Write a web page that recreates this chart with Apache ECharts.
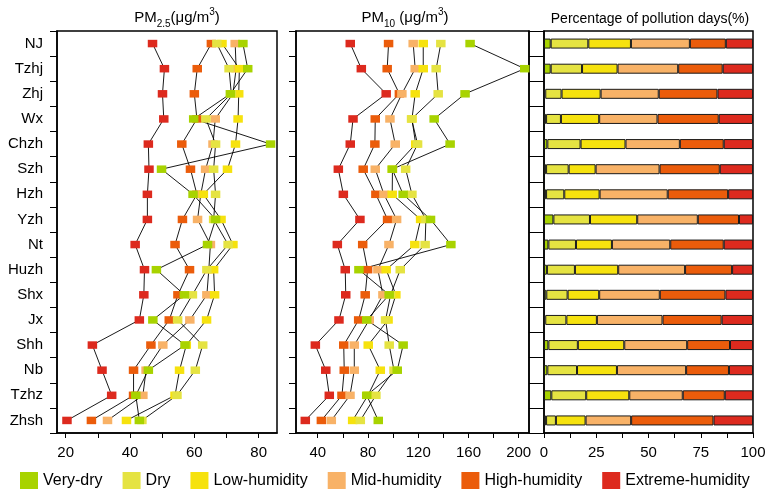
<!DOCTYPE html>
<html><head><meta charset="utf-8">
<script src="https://cdn.jsdelivr.net/npm/echarts@6/dist/echarts.min.js"></script>
<style>html,body{margin:0;padding:0;background:#fff}#c{width:770px;height:490px}</style>
</head><body><div id="c"></div>
<script>
const cities = ['NJ','Tzhj','Zhj','Wx','Chzh','Szh','Hzh','Yzh','Nt','Huzh','Shx','Jx','Shh','Nb','Tzhz','Zhsh'];
const categories = ['Very-dry','Dry','Low-humidity','Mid-humidity','High-humidity','Extreme-humidity'];
const colors = ['#a8d300','#e5e342','#f6e20e','#f8b267','#eb5c0b','#dd2a1e'];

// PM2.5 (µg/m3) by humidity class, per city
const pm25VeryDry = [75.1,76.6,71.2,59.8,83.7,49.8,59.6,66.6,64.1,48.2,56.9,47.1,57.1,45.7,41.8,42.9];
const pm25Dry     = [67.0,70.8,71.5,63.6,66.6,66.0,66.6,66.0,70.5,63.9,59.4,54.8,62.6,60.3,54.6,43.7];
const pm25Low     = [68.6,74.0,73.8,73.6,72.8,70.3,62.8,68.3,72.0,66.0,66.3,63.8,57.5,55.4,54.0,38.9];
const pm25Mid     = [72.7,73.0,72.0,66.5,65.8,63.5,62.0,61.0,65.0,64.5,63.9,58.6,50.2,45.0,44.0,33.0];
const pm25High    = [65.3,60.9,60.0,60.8,56.1,58.8,60.8,56.3,54.0,58.5,54.9,52.2,46.5,41.1,41.1,28.0];
const pm25Extreme = [47.0,50.7,50.1,50.5,45.7,45.9,45.4,45.4,41.6,44.5,44.3,42.9,28.3,31.3,34.3,20.4];

// PM10 (µg/m3) by humidity class, per city
const pm10VeryDry = [161.3,204.8,157.3,132.7,145.4,99.3,108.0,129.8,146.0,72.8,96.9,79.0,108.0,103.3,79.0,88.2];
const pm10Dry     = [138.0,134.3,135.9,114.7,119.5,110.0,115.0,126.1,125.5,105.7,98.0,94.0,96.9,100.7,86.3,73.9];
const pm10Low     = [124.0,124.0,117.6,115.0,118.0,99.5,99.3,121.9,117.3,94.5,102.2,96.0,80.2,89.8,80.0,67.8];
const pm10Mid     = [116.0,117.6,107.0,97.5,101.7,85.8,92.7,102.8,96.7,87.9,91.9,81.0,69.1,69.1,65.7,50.8];
const pm10High    = [96.4,95.3,105.0,85.8,85.5,76.2,86.3,95.6,75.8,79.7,77.8,72.6,60.7,61.1,59.3,42.9];
const pm10Extreme = [65.9,74.7,94.5,68.1,65.9,56.4,60.4,73.6,55.6,61.9,62.3,56.9,38.1,46.4,49.2,30.1];

// Percentage of pollution days (%)
const pctVeryDry = [3.2,3.2,0.6,1.0,1.6,1.0,1.0,4.5,2.1,1.4,1.1,0.6,2.1,1.6,3.5,1.0];
const pctDry     = [18.0,15.0,7.8,7.1,15.9,10.8,8.7,17.5,13.2,13.4,10.2,10.1,14.1,14.2,16.7,4.7];
const pctLow     = [20.4,17.0,18.7,18.3,21.5,12.9,16.9,22.6,17.2,20.7,15.1,14.6,22.2,19.1,20.6,14.2];
const pctMid     = [28.2,29.0,27.8,27.9,26.0,30.6,32.6,29.0,27.9,32.0,29.0,31.4,30.1,33.1,25.6,21.8];
const pctHigh    = [17.2,21.3,28.1,29.3,21.0,28.8,28.9,19.7,25.6,22.5,31.4,28.3,20.5,20.5,20.1,39.4];
const pctExtreme = [13.0,14.5,17.0,16.4,14.0,15.9,11.9,6.7,14.0,10.0,13.2,15.0,11.0,11.5,13.5,18.9];

// tick labels
const pm25Labels = [20,40,60,80];
const pm25Ticks  = [20,30,40,50,60,70,80];
const pm10Labels = [40,80,120,160,200];
const pm10Ticks  = [40,60,80,100,120,140,160,180,200];
const pctLabels  = [0,25,50,75,100];
const pctTicks   = [0,12.5,25,37.5,50,62.5,75,87.5,100];

const pm25 = [pm25VeryDry,pm25Dry,pm25Low,pm25Mid,pm25High,pm25Extreme];
const pm10 = [pm10VeryDry,pm10Dry,pm10Low,pm10Mid,pm10High,pm10Extreme];
const pct  = [pctVeryDry,pctDry,pctLow,pctMid,pctHigh,pctExtreme];

const FONT = "'Liberation Sans', Arial, sans-serif";
const chart = echarts.init(document.getElementById('c'), null, {renderer:'canvas'});

function xAxisDef(gi, min, max, labels, ticks){
  return {
    type:'value', gridIndex:gi, min:min, max:max, splitLine:{show:false},
    axisLine:{show:true, onZero:false, lineStyle:{color:'#000', width:1.5}},
    axisTick:{show:true, customValues:ticks, length:5, lineStyle:{color:'#000', width:1}},
    axisLabel:{show:true, customValues:labels, fontSize:15, color:'#000', fontFamily:FONT, margin:12},
    minorTick:{show:false}
  };
}
function yAxisDef(gi, showLabels, position, tickLen){
  return {
    type:'category', gridIndex:gi, data:cities, inverse:true, position:position||'left',
    axisLine:{show:true, lineStyle:{color:'#000', width:1.5}},
    axisTick:{show:true, length:tickLen||7, lineStyle:{color:'#000', width:1}},
    axisLabel:{show:showLabels, fontSize:15, color:'#000', fontFamily:FONT, margin:14},
    splitLine:{show:false}
  };
}

const series = [];
// connecting lines (under squares)
[[pm25,0],[pm10,1]].forEach(([arr,ax])=>{
  arr.forEach((vals,k)=>{
    series.push({
      type:'line', name:'line'+ax+'_'+k, xAxisIndex:ax, yAxisIndex:ax,
      data: vals.map((v,i)=>[v,cities[i]]), symbol:'none', silent:true,
      lineStyle:{color:'#000', width:0.9}, z:1, animation:false
    });
  });
});
// squares, drawn extreme first so very-dry ends on top
[[pm25,0],[pm10,1]].forEach(([arr,ax])=>{
  for(let k=5;k>=0;k--){
    series.push({
      type:'scatter', name:categories[k], xAxisIndex:ax, yAxisIndex:ax,
      data: arr[k].map((v,i)=>[v,cities[i]]), symbol:'rect', symbolSize:[9.5,7.5],
      itemStyle:{color:colors[k], opacity:1}, z:3, animation:false
    });
  }
});
// stacked bars
for(let k=0;k<6;k++){
  series.push({
    type:'bar', name:categories[k], xAxisIndex:2, yAxisIndex:2, stack:'p',
    data: pct[k], barWidth:10,
    itemStyle:{color:colors[k], borderColor:'#1a1a1a', borderWidth:1},
    animation:false
  });
}

const richT = {
  a:{fontSize:15,color:'#000',fontFamily:FONT,fontWeight:'normal',lineHeight:22,verticalAlign:'middle'},
  s:{fontSize:10,color:'#000',fontFamily:FONT,fontWeight:'normal',lineHeight:22,verticalAlign:'bottom'},
  p:{fontSize:10,color:'#000',fontFamily:FONT,fontWeight:'normal',lineHeight:22,verticalAlign:'top'}
};

chart.setOption({
  backgroundColor:'#fff',
  animation:false,
  textStyle:{fontFamily:FONT},
  title:[
    {text:'{a|PM}{s|2.5}{a|(μg/m}{p|3}{a|)}', left:172, top:2, textAlign:'center',
     textStyle:{fontWeight:'normal', rich:richT}},
    {text:'{a|PM}{s|10}{a| (μg/m}{p|3}{a|)}', left:400, top:2, textAlign:'center',
     textStyle:{fontWeight:'normal', rich:richT}},
    {text:'Percentage of pollution days(%)', left:645, top:7, textAlign:'center',
     textStyle:{fontSize:14, fontWeight:'normal', color:'#000', fontFamily:FONT}}
  ],
  legend:{
    data:categories.map((c,i)=>({name:c, itemStyle:{color:colors[i]}})),
    left:15, top:467, icon:'rect', itemWidth:18, itemHeight:17, itemGap:20,
    textStyle:{fontSize:16, color:'#000', fontFamily:FONT}, selectedMode:false
  },
  grid:[
    {left:57, top:31, width:220, height:402, show:true, borderColor:'#000', borderWidth:1.5, containLabel:false},
    {left:296, top:31, width:233, height:402, show:true, borderColor:'#000', borderWidth:1.5, containLabel:false},
    {left:544, top:31, width:209, height:402, show:true, borderColor:'#000', borderWidth:1.5, containLabel:false}
  ],
  xAxis:[
    xAxisDef(0, 17.3, 85.7, pm25Labels, pm25Ticks),
    xAxisDef(1, 22.7, 208.2, pm10Labels, pm10Ticks),
    xAxisDef(2, 0, 100, pctLabels, pctTicks)
  ],
  yAxis:[
    yAxisDef(0, true, 'left', 7),
    yAxisDef(1, false, 'left', 7),
    yAxisDef(2, false, 'left', 8),
    yAxisDef(1, false, 'right', 8)
  ],
  series:series
});
</script></body></html>
